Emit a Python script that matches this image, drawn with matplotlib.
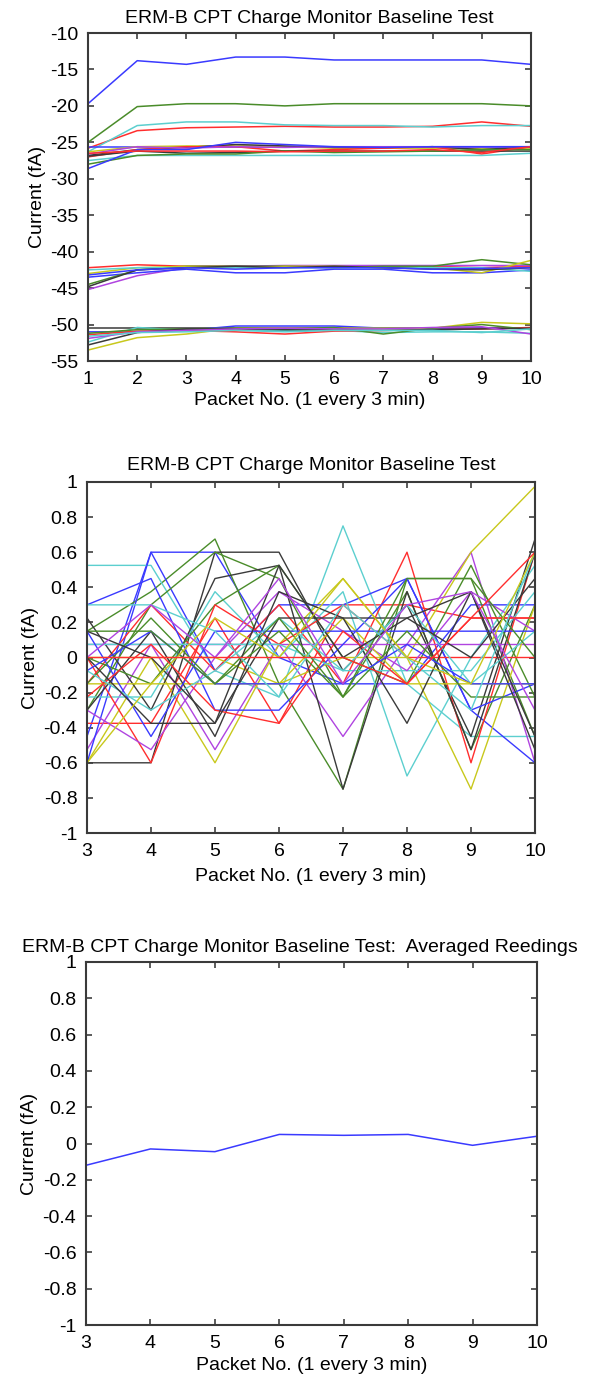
import numpy as np
import matplotlib
matplotlib.use('Agg')
import matplotlib.pyplot as plt

plt.rcParams['font.family'] = ['Liberation Sans', 'DejaVu Sans']
plt.rcParams['font.size'] = 14
plt.rcParams['axes.unicode_minus'] = False

# colours (old matlab style, a bit washed out)
col = {'b': '#3a3aff', 'g': '#4a8c2a', 'r': '#ff2e2e', 'c': '#5ccfcf',
       'm': '#b044e0', 'y': '#c8c81c', 'k': '#3a3a3a'}

# ---------------- top plot data (packets 1..10) ----------------
x_top = np.arange(1, 11)
top_series = [
    ('b', [-19.7, -13.8, -14.3, -13.3, -13.3, -13.7, -13.7, -13.7, -13.7, -14.3]),
    ('g', [-25.0, -20.1, -19.7, -19.7, -20.0, -19.7, -19.7, -19.7, -19.7, -20.0]),
    ('r', [-25.8, -23.4, -23.0, -22.9, -22.8, -22.9, -22.9, -22.8, -22.2, -22.8]),
    ('c', [-26.3, -22.7, -22.2, -22.2, -22.6, -22.7, -22.7, -22.9, -22.7, -22.7]),
    ('b', [-25.6, -25.6, -25.6, -25.6, -25.6, -25.6, -25.6, -25.6, -25.6, -25.6]),
    ('y', [-26.3, -25.6, -25.5, -25.5, -25.6, -25.8, -25.8, -25.8, -25.9, -25.9]),
    ('k', [-26.8, -26.0, -25.7, -25.3, -25.5, -25.7, -25.7, -25.6, -26.0, -25.6]),
    ('r', [-27.0, -26.0, -25.6, -25.6, -26.2, -26.0, -25.8, -25.6, -26.6, -25.6]),
    ('m', [-26.6, -25.6, -25.8, -25.6, -25.7, -25.6, -25.6, -25.6, -25.6, -25.6]),
    ('k', [-26.9, -26.2, -26.5, -26.4, -26.2, -26.2, -26.2, -26.2, -26.2, -26.2]),
    ('c', [-27.5, -26.8, -26.8, -26.8, -26.8, -26.8, -26.8, -26.8, -26.8, -26.5]),
    ('g', [-28.0, -26.8, -26.6, -26.6, -26.2, -26.4, -26.3, -26.2, -26.0, -26.0]),
    ('b', [-28.6, -26.0, -26.0, -25.0, -25.3, -25.6, -25.7, -25.6, -25.6, -25.6]),
    ('r', [-26.5, -26.2, -26.2, -26.2, -26.3, -26.2, -26.2, -26.0, -26.4, -25.6]),
    ('r', [-42.2, -41.8, -42.0, -42.0, -42.0, -42.0, -42.0, -42.0, -42.2, -42.0]),
    ('m', [-45.2, -43.3, -42.2, -42.0, -41.9, -41.9, -41.9, -41.9, -41.9, -41.9]),
    ('b', [-43.5, -42.9, -42.4, -42.9, -42.9, -42.4, -42.4, -42.9, -42.9, -42.5]),
    ('g', [-44.5, -42.5, -42.0, -42.0, -42.0, -42.2, -42.0, -42.0, -41.1, -41.8]),
    ('y', [-43.0, -42.2, -42.0, -42.2, -42.0, -42.0, -42.2, -42.2, -42.9, -41.2]),
    ('c', [-42.5, -42.2, -42.2, -42.2, -42.2, -42.2, -42.2, -42.2, -42.2, -42.7]),
    ('k', [-44.8, -42.5, -42.2, -42.0, -42.2, -42.0, -42.2, -42.4, -42.5, -42.2]),
    ('b', [-43.2, -42.5, -42.2, -42.4, -42.2, -42.2, -42.2, -42.4, -42.3, -42.2]),
    ('k', [-50.5, -50.5, -50.5, -50.5, -50.5, -50.5, -50.5, -50.5, -50.5, -50.5]),
    ('b', [-51.0, -51.0, -50.8, -50.2, -50.2, -50.2, -50.5, -50.5, -50.5, -50.5]),
    ('y', [-53.5, -51.8, -51.3, -50.5, -50.5, -50.5, -50.5, -50.5, -49.7, -49.9]),
    ('c', [-52.4, -50.4, -50.8, -50.8, -50.8, -50.8, -51.1, -51.0, -51.0, -51.2]),
    ('r', [-51.4, -50.9, -50.8, -51.0, -51.3, -50.9, -50.8, -50.7, -50.6, -50.4]),
    ('g', [-51.2, -50.7, -50.6, -50.5, -50.6, -50.4, -51.3, -50.5, -50.0, -50.7]),
    ('k', [-52.8, -51.1, -50.6, -50.6, -50.7, -50.7, -50.8, -50.7, -50.6, -50.5]),
    ('m', [-51.9, -51.0, -50.8, -50.6, -50.5, -50.6, -50.6, -50.4, -50.3, -51.3]),
    ('c', [-51.6, -51.1, -51.0, -50.8, -51.0, -50.8, -50.8, -50.8, -51.1, -50.6]),
]

# ---------------- middle plot data (packets 3..10) ----------------
x_mid = np.arange(3, 11)
mid_series = [
    ('b', [-0.45, 0.6, 0.6, 0.0, -0.15, -0.15, 0.3, 0.3]),
    ('g', [0.15, 0.375, 0.675, -0.15, -0.75, 0.45, 0.45, -0.45]),
    ('r', [-0.375, -0.375, 0.225, -0.375, 0.3, 0.3, 0.225, 0.225]),
    ('c', [0.525, 0.525, -0.075, -0.225, 0.75, -0.15, -0.45, -0.45]),
    ('m', [-0.525, 0.075, -0.525, 0.075, -0.45, 0.075, 0.6, -0.6]),
    ('y', [-0.6, 0.0, -0.6, 0.075, 0.45, 0.0, 0.6, 0.975]),
    ('k', [-0.6, -0.6, 0.6, 0.6, -0.075, 0.3, -0.45, 0.675]),
    ('b', [-0.6, 0.6, -0.075, 0.3, 0.3, 0.45, -0.3, -0.6]),
    ('g', [-0.3, 0.3, 0.6, 0.45, -0.225, 0.375, -0.525, 0.3]),
    ('r', [-0.15, 0.3, -0.075, 0.3, -0.15, 0.6, -0.6, 0.6]),
    ('c', [-0.225, -0.225, 0.375, 0.0, 0.375, -0.675, 0.0, 0.525]),
    ('m', [0.075, 0.075, 0.075, 0.075, 0.075, 0.075, 0.075, 0.075]),
    ('y', [0.0, 0.0, 0.0, -0.15, 0.0, 0.0, -0.75, 0.3]),
    ('k', [0.225, -0.3, 0.45, 0.525, -0.75, 0.375, -0.525, 0.6]),
    ('b', [0.3, 0.45, -0.3, -0.3, 0.075, 0.45, -0.3, -0.15]),
    ('g', [0.0, -0.15, 0.3, 0.525, 0.0, -0.15, 0.525, -0.225]),
    ('r', [0.0, -0.6, 0.3, 0.075, 0.3, 0.0, 0.0, 0.0]),
    ('c', [0.075, 0.075, 0.075, 0.075, -0.075, -0.075, -0.075, 0.375]),
    ('m', [-0.3, -0.525, 0.0, 0.375, 0.15, -0.075, 0.375, 0.15]),
    ('y', [-0.15, -0.15, -0.15, -0.15, 0.225, -0.15, -0.15, -0.15]),
    ('k', [-0.3, 0.15, -0.45, 0.375, 0.225, -0.375, 0.375, -0.525]),
    ('b', [0.15, -0.45, 0.15, 0.15, 0.15, 0.15, 0.15, 0.15]),
    ('g', [-0.15, 0.225, -0.15, 0.15, -0.225, 0.15, -0.225, -0.225]),
    ('r', [-0.225, 0.075, -0.3, -0.375, 0.15, -0.15, 0.225, 0.225]),
    ('c', [-0.075, -0.3, -0.075, 0.225, -0.075, 0.3, -0.15, 0.15]),
    ('k', [0.0, -0.375, -0.375, 0.225, 0.225, 0.225, 0.0, 0.45]),
    ('b', [-0.075, 0.15, -0.15, -0.15, -0.15, 0.075, -0.15, -0.15]),
    ('g', [0.15, 0.15, -0.15, 0.225, -0.225, 0.45, 0.45, 0.0]),
    ('k', [0.15, 0.0, -0.375, 0.525, 0.0, 0.225, 0.375, -0.45]),
    ('c', [0.3, 0.3, 0.15, -0.225, 0.3, 0.0, -0.3, 0.6]),
    ('y', [-0.6, -0.15, 0.225, 0.0, 0.45, 0.0, -0.15, 0.6]),
    ('m', [0.0, 0.3, 0.0, 0.45, -0.15, 0.3, 0.375, -0.3]),
    ('r', [0.0, 0.0, 0.0, 0.0, 0.0, -0.15, 0.225, 0.6]),
]

# ---------------- bottom plot data (averaged) ----------------
x_avg = np.arange(3, 11)
avg_values = [-0.12, -0.03, -0.045, 0.05, 0.045, 0.05, -0.01, 0.04]

title_main = 'ERM-B CPT Charge Monitor Baseline Test'
title_avg = 'ERM-B CPT Charge Monitor Baseline Test:  Averaged Reedings'
xlab = 'Packet No. (1 every 3 min)'
ylab = 'Current (fA)'

unit_ticks = [-1, -0.8, -0.6, -0.4, -0.2, 0, 0.2, 0.4, 0.6, 0.8, 1]
unit_labels = ['-1', '-0.8', '-0.6', '-0.4', '-0.2', '0', '0.2', '0.4', '0.6', '0.8', '1']

W, H = 592, 1379
fig = plt.figure(figsize=(W / 100, H / 100), dpi=100)


def box(l, r, t, b):
    return [l / W, 1 - b / H, (r - l) / W, (b - t) / H]


def style(ax):
    ax.tick_params(direction='in', top=True, right=True, length=4, width=1.2,
                   color='#404040', labelsize=14, pad=7)
    for s in ax.spines.values():
        s.set_linewidth(1.5)
        s.set_color('#3a3a3a')


ax1 = fig.add_axes(box(88, 531, 33, 361))
for c, v in top_series:
    ax1.plot(x_top, v, color=col[c], lw=1.1)
ax1.set_xlim(1, 10)
ax1.set_ylim(-55, -10)
ax1.set_xticks(range(1, 11))
ax1.set_yticks(range(-55, -9, 5))
ax1.set_title(title_main, fontsize=14, pad=7)
ax1.set_xlabel(xlab, labelpad=3)
ax1.set_ylabel(ylab, labelpad=3)
style(ax1)

ax2 = fig.add_axes(box(87, 535, 482, 833))
for c, v in mid_series:
    ax2.plot(x_mid, v, color=col[c], lw=1.0)
ax2.set_xlim(3, 10)
ax2.set_ylim(-1, 1)
ax2.set_xticks(range(3, 11))
ax2.set_yticks(unit_ticks)
ax2.set_yticklabels(unit_labels)
ax2.set_title(title_main, fontsize=14, pad=9)
ax2.set_xlabel(xlab, labelpad=6)
ax2.set_ylabel(ylab, labelpad=3)
style(ax2)

ax3 = fig.add_axes(box(86, 537, 962, 1325))
ax3.plot(x_avg, avg_values, color=col['b'], lw=1.1)
ax3.set_xlim(3, 10)
ax3.set_ylim(-1, 1)
ax3.set_xticks(range(3, 11))
ax3.set_yticks(unit_ticks)
ax3.set_yticklabels(unit_labels)
ax3.set_title(title_avg, fontsize=14, pad=7, x=0.475)
ax3.set_xlabel(xlab, labelpad=4)
ax3.set_ylabel(ylab, labelpad=3)
style(ax3)

fig.savefig('out.png', dpi=100)
